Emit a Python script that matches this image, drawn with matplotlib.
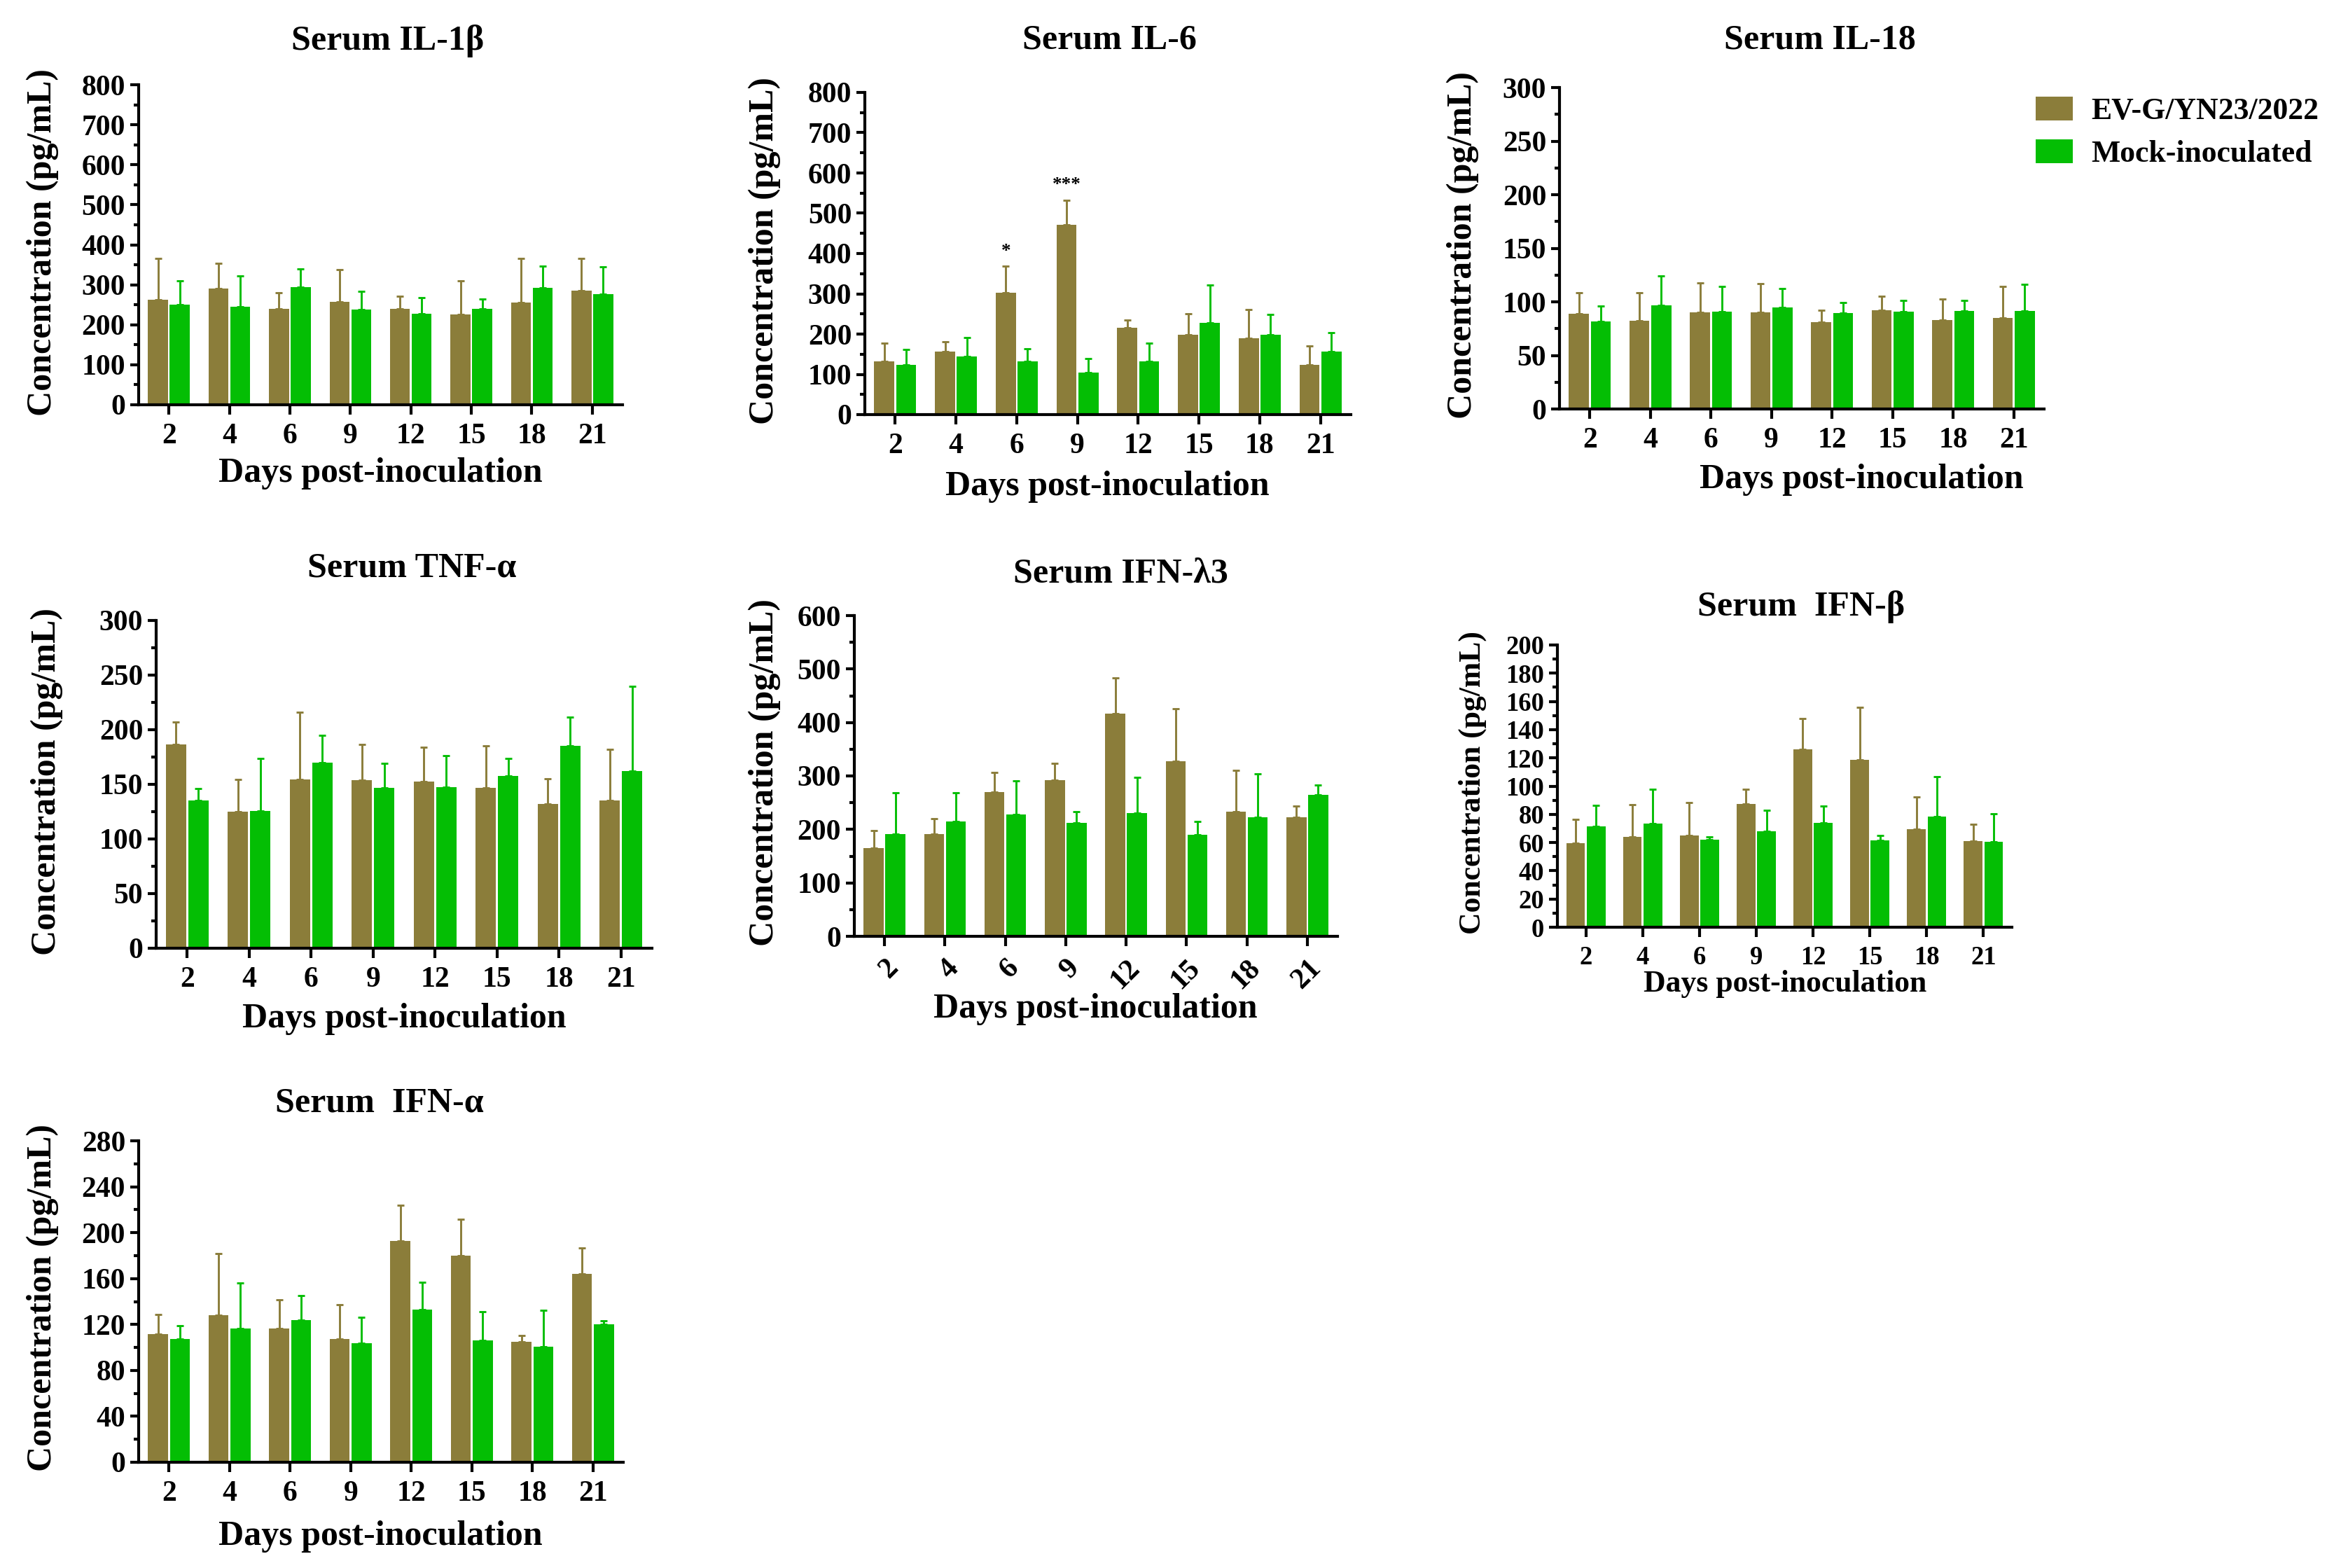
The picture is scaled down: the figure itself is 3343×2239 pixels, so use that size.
import numpy as np
import matplotlib
matplotlib.use("Agg")
import matplotlib.pyplot as plt
from matplotlib.ticker import MultipleLocator

plt.rcParams['font.family'] = ['Liberation Serif', 'DejaVu Serif']
plt.rcParams['font.weight'] = 'bold'

days = ["2", "4", "6", "9", "12", "15", "18", "21"]
groups = ["EV-G/YN23/2022", "Mock-inoculated"]

# mean and SD (upper bar only), pg/mL
il1b_ev = [263, 291, 240, 258, 240, 226, 256, 286]
il1b_ev_sd = [102, 62, 40, 80, 31, 83, 109, 79]
il1b_mock = [250, 245, 294, 238, 228, 240, 292, 277]
il1b_mock_sd = [59, 77, 45, 46, 39, 25, 54, 67]

il6_ev = [133, 157, 303, 472, 215, 198, 189, 123]
il6_ev_sd = [44, 24, 65, 61, 19, 52, 72, 47]
il6_mock = [123, 144, 133, 105, 132, 227, 198, 156]
il6_mock_sd = [38, 47, 30, 34, 45, 95, 51, 48]
il6_marks = ["", "", "*", "***", "", "", "", ""]

il18_ev = [88.8, 82.2, 90, 90, 81, 92, 82.8, 85]
il18_ev_sd = [19.7, 26.3, 27.8, 27, 11, 13.4, 19.9, 29.5]
il18_mock = [81.6, 96.7, 90.6, 95, 89.4, 90.6, 91.2, 91.2]
il18_mock_sd = [14.4, 27.3, 23.6, 17.4, 10, 10.6, 10, 25.1]

tnf_ev = [186.8, 125, 154.6, 154, 152.7, 147, 132, 135.4]
tnf_ev_sd = [20, 29.6, 61.4, 32.5, 31, 38.5, 23, 46.6]
tnf_mock = [135.4, 125.7, 170, 147, 147.6, 158, 185, 162.5]
tnf_mock_sd = [11, 47.7, 25, 22.5, 28.8, 15.4, 26.4, 77.1]

ifnl3_ev = [164.6, 190.7, 269.6, 292, 416.8, 327.3, 233, 222.4]
ifnl3_ev_sd = [32.9, 29.8, 37.2, 31.6, 66.4, 98.7, 77.6, 21.1]
ifnl3_mock = [190.7, 215.5, 227.3, 211.8, 230.4, 189.4, 222.4, 264.6]
ifnl3_mock_sd = [77.6, 52.8, 64, 21.2, 67.1, 24.9, 81.3, 18]

ifnb_ev = [59.5, 63.9, 65, 87.5, 126, 118.4, 69.4, 61]
ifnb_ev_sd = [17.1, 23.1, 23.1, 10.5, 22, 37.2, 23.1, 12.2]
ifnb_mock = [71.5, 73.4, 62, 68, 74, 61.4, 78.4, 60.6]
ifnb_mock_sd = [15.1, 24.4, 2.1, 15.1, 12, 3.6, 28.2, 19.9]

ifna_ev = [111.6, 128.2, 116.6, 107.4, 192.5, 179.7, 105, 164.2]
ifna_ev_sd = [17.2, 53.8, 25.2, 30, 31.3, 31.9, 5.2, 22.4]
ifna_mock = [107.4, 116.6, 123.8, 103.6, 133, 106.3, 100.5, 120]
ifna_mock_sd = [11.6, 39.6, 21.6, 22.7, 23.7, 25, 32.1, 3.2]

brown = "#8B7D3A"
green = "#04BE04"

W, H = 3343, 2239
fig = plt.figure(figsize=(W / 300, H / 300), dpi=300)


def fx(px):
    return px / W


def fy(py):
    return 1 - py / H


def panel(box, title, ev, ev_sd, mock, mock_sd, ymax, major, t_xy, xl_xy, yl_xy,
          ts=10, ls=12, rotate=False, marks=None):
    l, r, t, b = box
    ax = fig.add_axes([fx(l), fy(b), fx(r - l), (b - t) / H])
    x = np.arange(len(days))
    z = np.zeros(len(days))
    b1 = ax.bar(x - 0.18, ev, 0.33, color=brown, label=groups[0])
    b2 = ax.bar(x + 0.18, mock, 0.33, color=green, label=groups[1])
    ax.errorbar(x - 0.18, ev, yerr=[z, ev_sd], fmt='none', ecolor=brown,
                elinewidth=0.7, capsize=1.3, capthick=0.7)
    ax.errorbar(x + 0.18, mock, yerr=[z, mock_sd], fmt='none', ecolor=green,
                elinewidth=0.7, capsize=1.3, capthick=0.7)
    if marks:
        for i, m in enumerate(marks):
            if m:
                ax.annotate(m, (x[i] - 0.18, ev[i] + ev_sd[i]), xytext=(0, 3.5),
                            textcoords='offset points', ha='center', va='baseline',
                            fontsize=6.5)
    ax.set_xlim(-0.5, 7.5)
    ax.set_ylim(0, ymax)
    ax.yaxis.set_major_locator(MultipleLocator(major))
    ax.yaxis.set_minor_locator(MultipleLocator(major / 2))
    ax.set_xticks(x)
    if rotate:
        ax.set_xticklabels(days, rotation=45, ha='right', rotation_mode='anchor')
    else:
        ax.set_xticklabels(days)
    for s in ['top', 'right']:
        ax.spines[s].set_visible(False)
    for s in ['left', 'bottom']:
        ax.spines[s].set_linewidth(1.0)
    ax.tick_params(axis='y', which='major', length=3, width=1, pad=1.5, labelsize=ts)
    ax.tick_params(axis='y', which='minor', length=1.8, width=1)
    ax.tick_params(axis='x', length=3.3, width=1, pad=3, labelsize=ts)
    fig.text(fx(t_xy[0]), fy(t_xy[1]), title, ha='center', va='center', fontsize=12)
    fig.text(fx(xl_xy[0]), fy(xl_xy[1]), "Days post-inoculation", ha='center',
             va='center', fontsize=ls)
    fig.text(fx(yl_xy[0]), fy(yl_xy[1]), "Concentration (pg/mL)", ha='center',
             va='center', rotation=90, fontsize=ls)
    return b1, b2


h1, h2 = panel((198, 889, 121, 578), "Serum IL-1β", il1b_ev, il1b_ev_sd,
               il1b_mock, il1b_mock_sd, 800, 100, (554, 58), (543, 676), (61, 346))
panel((1235, 1929, 132, 592), "Serum IL-6", il6_ev, il6_ev_sd,
      il6_mock, il6_mock_sd, 800, 100, (1584, 58), (1581, 695), (1092, 358),
      marks=il6_marks)
panel((2227, 2919, 125, 584), "Serum IL-18", il18_ev, il18_ev_sd,
      il18_mock, il18_mock_sd, 300, 50, (2599, 58), (2658, 685), (2089, 350))
panel((223, 931, 886, 1354), "Serum TNF-α", tnf_ev, tnf_ev_sd,
      tnf_mock, tnf_mock_sd, 300, 50, (588, 812), (577, 1455), (67, 1116))
panel((1220, 1910, 879, 1337), "Serum IFN-λ3", ifnl3_ev, ifnl3_ev_sd,
      ifnl3_mock, ifnl3_mock_sd, 600, 100, (1600, 819), (1564, 1441), (1092, 1103),
      rotate=True)
panel((2224, 2873, 921, 1324), "Serum  IFN-β", ifnb_ev, ifnb_ev_sd,
      ifnb_mock, ifnb_mock_sd, 200, 20, (2572, 866), (2549, 1405), (2103, 1118),
      ts=8.8, ls=10.5)
panel((198, 890, 1629, 2088), "Serum  IFN-α", ifna_ev, ifna_ev_sd,
      ifna_mock, ifna_mock_sd, 280, 40, (542, 1575), (543, 2194), (61, 1853))

fig.legend(handles=[h1, h2], labels=groups, loc='upper left',
           bbox_to_anchor=(fx(2907), fy(138)), frameon=False, fontsize=10.5,
           handlelength=1.21, handleheight=0.82, handletextpad=0.6,
           labelspacing=0.45, borderpad=0, borderaxespad=0)

fig.savefig("out.png", dpi=300)
